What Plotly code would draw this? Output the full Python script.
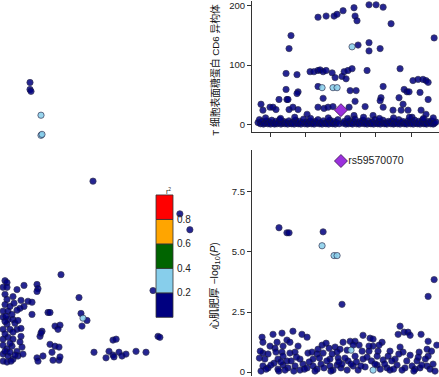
import plotly.graph_objects as go

# ---------------- r2 legend ----------------
r2_breaks = [0.2, 0.4, 0.6, 0.8]
r2_labels = ["0.2", "0.4", "0.6", "0.8"]
r2_colors = ["#000080", "#87CEEB", "#006400", "#FFA500", "#FF0000"]

# ---------------- lead SNP ----------------
lead_snp = "rs59570070"
lead_pos = 31402          # kb
lead_cd6 = 24             # CD6 -log10(P)
lead_heart = 8.79         # heart -log10(P)

# ---------------- left panel: CD6 -log10P vs heart -log10P ----------------
left_cd6 = [43.2, 43.2, 44.8, 60.8, 60.8, 62.4, 144, 283, 299, 92.8, 121.6, 240,
            124.8, 128, 134.4, 126.4, 248, 251, 176, 181, 145.6, 164.8, 169.6, 176,
            177.6, 185.6, 190.4, 196.8, 212.8, 228.8,
            3.2, 6.4, 0, 6.4, 22.4, 33.6, 54.4, 56, 54.4, 3.2, 16, 6.4, 28.8, 40, 46.4,
            33.6, 27.2, 22.4, 46.4, 72, 75.2, 0, 8, 0, 8, 16, 6.4, 19.2, 0, 11.2, 22.4,
            28.8, 62.4, 59.2, 83.2, 91.2, 88, 0, 8, 0, 6.4, 16, 14.4, 30.4, 22.4, 0, 8,
            16, 0, 6.4, 24, 32, 75.2, 83.2, 89.6, 78.4, 64, 54.4, 56, 80, 89.6, 91.2,
            3.2, 11.2, 3.2, 14.4, 3.2, 16, 3.2, 11.2, 19.2, 12.8, 27.2, 11.2, 4.8, 17.6,
            24, 60.8, 28.8]
left_heart = [5.98, 5.83, 5.79, 5.28, 4.85, 4.87, 3.87, 3.17, 2.83, 1.87, 1.38, 1.53,
              1.04, 0.94, 0.89, 0.77, 0.55, 0.53, 0.47, 0.49, 0.21, 0.09, 0.23, 0.15,
              0.11, 0.21, 0.13, 0.17, 0.23, 0.21,
              1.74, 1.70, 1.60, 1.60, 1.55, 1.64, 1.66, 1.57, 1.51, 1.45, 1.40, 1.34, 1.32,
              1.30, 1.28, 1.19, 1.15, 1.11, 1.02, 1.06, 1.06, 1.09, 1.09, 0.96, 0.91, 0.91,
              0.81, 0.83, 0.70, 0.70, 0.70, 0.55, 0.66, 0.55, 0.77, 0.79, 0.70, 0.49, 0.53,
              0.36, 0.28, 0.49, 0.34, 0.32, 0.23, 0.17, 0.13, 0.06, 0.02, 0.0, 0.13, 0.17,
              0.38, 0.34, 0.32, 0.21, 0.13, 0.09, 0.02, 0.04, 0.04, 0.11,
              1.23, 1.19, 0.87, 1.02, 0.60, 0.64, 0.23, 0.40, 0.15, 0.02, 0.43, 0.21, 0.98,
              1.26, 0.89, 0.62, 0.72]
left_r2 = [0.1, 0.1, 0.1, 0.3, 0.3, 0.3] + [0.1] * 7 + [0.3] + [0.1] * (len(left_cd6) - 14)

# ---------------- top-right panel: position vs CD6 -log10P ----------------
top_pos = [31272, 31318, 31363, 31380, 31414, 31476, 31482, 31493, 31561, 31601, 31641,
           31686, 31930, 31119, 31108, 31465, 31499, 31561, 31561, 31624,
           31091, 31153, 31227, 31249, 31272, 31284, 31301, 31318, 31352, 31369, 31408,
           31431, 31420, 31442, 31465, 31550, 31737, 31810, 31839, 31867, 31884, 31896,
           31272, 31295, 31357, 31380, 31091, 31159, 31153, 31301, 31454, 31488, 31641,
           31731, 31760, 31776, 31788, 31850, 31051, 31096, 31102, 31629, 31754, 31896,
           31482, 31624,
           30949, 30960, 31000, 31017, 31034, 31108, 31130, 31159, 31210, 31272, 31306,
           31329, 31357, 31448, 31539, 31641, 31697, 31743, 31782, 31856, 31476, 31584,
           31805, 31884,
           30932, 30940, 30946, 30955, 30963, 30972, 30980, 30988, 30995, 31003, 31010,
           31018, 31026, 31033, 31040, 31048, 31055, 31062, 31070, 31077, 31085, 31092,
           31100, 31107, 31115, 31122, 31130, 31137, 31145, 31152, 31160, 31167, 31175,
           31182, 31190, 31197, 31205, 31212, 31220, 31227, 31235, 31242, 31250, 31257,
           31265, 31272, 31280, 31287, 31295, 31302, 31310, 31317, 31325, 31332, 31340,
           31347, 31355, 31362, 31370, 31377, 31385, 31392, 31415, 31422, 31430, 31437,
           31445, 31452, 31460, 31467, 31475, 31482, 31490, 31497, 31505, 31512, 31520,
           31527, 31535, 31542, 31550, 31557, 31565, 31572, 31580, 31587, 31595, 31602,
           31610, 31617, 31625, 31632, 31640, 31647, 31655, 31662, 31670, 31677, 31685,
           31692, 31700, 31707, 31715, 31722, 31730, 31737, 31745, 31752, 31760, 31767,
           31775, 31782, 31790, 31797, 31805, 31812, 31820, 31827, 31835, 31842, 31850,
           31857, 31865, 31872, 31880, 31887, 31895, 31902, 31910, 31917, 31925, 31932,
           31940,
           30975, 31060, 31140, 31230, 31330, 31440, 31530, 31620, 31700, 31790, 31870,
           31925]
top_val = [181, 183, 183, 186, 192, 197, 183, 175, 202, 202, 198, 170, 146, 150, 128, 131,
           134, 138, 124, 128,
           86, 84, 89, 89, 91, 92, 89, 91, 87, 79, 81, 77, 89, 91, 94, 91, 94, 74, 76, 76,
           74, 71, 64, 62, 62, 62, 59, 55, 52, 44, 57, 57, 64, 45, 59, 55, 55, 54, 42, 42,
           42, 45, 34, 42, 39, 40,
           34, 24, 29, 29, 25, 25, 29, 25, 17, 29, 27, 29, 30, 29, 30, 29, 24, 24, 24, 24,
           15, 15, 12, 17,
           3, 8, 1, 5, 0.5, 2, 6, 1, 4, 0.5, 7, 2, 0.5, 5, 1, 3, 8, 0.5, 2, 5, 1, 3, 0.5,
           6, 2, 1, 4, 0.5, 7, 2, 1, 5, 0.5, 3, 9, 1, 4, 0.5, 2, 6, 1, 3, 0.5, 5, 2, 8, 1,
           3, 0.5, 6, 2, 1, 4, 0.5, 7, 2, 1, 5, 0.5, 3, 8, 1, 2, 5, 0.5, 3, 1, 6, 2, 0.5,
           4, 9, 1, 3, 0.5, 5, 2, 7, 1, 3, 0.5, 6, 2, 1, 4, 0.5, 8, 2, 1, 5, 0.5, 3, 7, 1,
           2, 0.5, 5, 3, 1, 6, 0.5, 2, 4, 1, 8, 0.5, 3, 5, 1, 2, 0.5, 6, 3, 1, 4, 0.5, 7,
           2, 1, 5, 0.5, 3, 8, 1, 2, 0.5, 5, 3, 1, 6, 0.5, 2, 4,
           11, 10, 12, 10, 11, 10, 12, 10, 11, 12, 10, 11]
top_r2 = [0.1] * len(top_pos)
for _p, _v in [(31465, 131), (31295, 62), (31357, 62), (31380, 62)]:
    for _i in range(len(top_pos)):
        if top_pos[_i] == _p and top_val[_i] == _v:
            top_r2[_i] = 0.3

# ---------------- bottom-right panel: position vs heart -log10P ----------------
bot_pos = [31051, 31096, 31108, 31301, 31295, 31363, 31380, 31408, 31896, 31930,
           30955, 30960, 31017, 31068, 31130, 31181, 31210, 31040, 31096, 31113, 31074,
           31028, 31000, 30960, 30989, 31034, 31068, 31074, 31113, 31142, 31159, 31215,
           31238, 31272, 31295, 31318, 31335, 31369, 31397, 31380, 31352, 31301, 31267,
           30960, 30949, 30989, 31023, 31045, 31074, 31102, 31142, 31170, 31187, 31210,
           31244, 31267, 31289, 31306, 31340, 31357, 31380, 31402, 30971, 31045, 31096,
           31170, 31244, 31340, 31386,
           31737, 31726, 31760, 31782, 31794, 31856, 31896, 31527, 31454, 31482, 31414,
           31567, 31584, 31635, 31618, 31584, 31561, 31505, 31471, 31459, 31437, 31522,
           31561, 31612, 31680, 31737, 31754, 31794, 31845, 31890, 31896, 31482, 31607,
           31669, 31442, 31527, 31641, 31709, 31833, 31408, 31471, 31539, 31584, 31607,
           31663, 31720, 31765, 31805, 31850, 31890, 31907, 31437, 31499, 31680, 31748,
           31822, 31924,
           30940, 30945, 30978, 31005, 31050, 31062, 31085, 31120, 31135, 31150, 31195,
           31222, 31255, 31280, 31322, 31345, 31390, 31425, 31460, 31490, 31515, 31550,
           31575, 31595, 31625, 31650, 31690, 31700, 31730, 31775, 31815, 31840, 31860,
           31880, 31915, 31935, 31945]
bot_val = [6.01, 5.80, 5.80, 5.84, 5.26, 4.85, 4.85, 2.82, 3.15, 3.85,
           1.45, 1.24, 1.57, 1.62, 1.70, 1.57, 1.45, 1.24, 1.33, 1.24, 1.08, 0.99, 1.08,
           0.79, 0.75, 0.83, 0.83, 0.66, 0.79, 0.83, 1.08, 0.79, 0.83, 0.95, 1.12, 1.20,
           0.99, 1.04, 0.95, 0.83, 0.75, 0.79, 0.75, 0.25, 0.04, 0.17, 0.37, 0.12, 0.29,
           0.17, 0.25, 0.08, 0.33, 0.17, 0.25, 0.12, 0.33, 0.17, 0.25, 0.08, 0.29, 0.17,
           0.54, 0.54, 0.46, 0.54, 0.54, 0.54, 0.58,
           1.91, 1.57, 1.66, 1.66, 1.53, 1.57, 1.28, 1.53, 1.28, 1.28, 1.24, 1.41, 1.37,
           1.24, 1.12, 1.08, 1.08, 1.12, 1.12, 0.91, 0.91, 0.87, 0.87, 0.87, 0.87, 1.04,
           0.83, 0.70, 0.83, 0.95, 0.66, 0.66, 0.66, 0.66, 0.46, 0.54, 0.50, 0.54, 0.46,
           0.33, 0.25, 0.21, 0.08, 0.29, 0.17, 0.29, 0.17, 0.25, 0.17, 0.25, 0.12, 0.08,
           0.08, 0.08, 0.08, 0.12, 0.33,
           0.58, 0.87, 0.12, 0.29, 0.04, 0.42, 0.08, 0.46, 0.04, 0.62, 0.12, 0.42, 0.04,
           0.58, 0.46, 0.04, 0.42, 0.58, 0.33, 0.42, 0.25, 0.62, 0.46, 0.33, 0.12, 0.33,
           0.46, 0.12, 0.75, 0.46, 0.04, 0.62, 0.29, 0.54, 0.87, 0.04, 1.12]
bot_r2 = [0.1] * len(bot_pos)
for _p, _v in [(31295, 5.26), (31363, 4.85), (31380, 4.85), (31459, 0.91), (31584, 0.08)]:
    for _i in range(len(bot_pos)):
        if bot_pos[_i] == _p and bot_val[_i] == _v:
            bot_r2[_i] = 0.3

pos_ticks = [31000, 31200, 31400, 31600, 31800]
cd6_ticks = [0, 100, 200]
heart_ticks = [0, 2.5, 5.0, 7.5]
heart_ticktext = ["0", "2.5", "5.0", "7.5"]

cd6_title = "T 细胞表面糖蛋白 CD6 异构体"
heart_title = "心肌肥厚 −log<sub>10</sub>(<i>P</i>)"

# ---------------- helpers ----------------
W, H = 439, 377
FONT = "Liberation Sans, Arial, Noto Sans CJK SC, sans-serif"


def r2_color(r):
    for b, c in zip(r2_breaks, r2_colors):
        if r < b:
            return c
    return r2_colors[-1]


def ordered(xs, ys, rs):
    idx = sorted(range(len(xs)), key=lambda i: rs[i])
    return ([xs[i] for i in idx], [ys[i] for i in idx], [r2_color(rs[i]) for i in idx])


def px_x(p):
    return p / W


def px_y(p):
    return 1 - p / H


fig = go.Figure()
mk_line = dict(color="#15153a", width=0.7)
MK = 6.3
OP = 0.85

# left panel
lx, ly, lc = ordered(left_cd6, left_heart, left_r2)
fig.add_trace(go.Scatter(x=lx, y=ly, mode="markers", xaxis="x3", yaxis="y3",
                         marker=dict(size=MK, color=lc, line=mk_line, opacity=OP), hoverinfo="skip"))
# top-right panel
tx, ty, tc = ordered(top_pos, top_val, top_r2)
fig.add_trace(go.Scatter(x=tx, y=ty, mode="markers", xaxis="x", yaxis="y",
                         marker=dict(size=MK, color=tc, line=mk_line, opacity=OP), hoverinfo="skip"))
fig.add_trace(go.Scatter(x=[lead_pos], y=[lead_cd6], mode="markers", xaxis="x", yaxis="y",
                         marker=dict(size=10, symbol="diamond", color="#9b30dd",
                                     line=dict(color="#3a1050", width=0.8)), hoverinfo="skip"))
# bottom-right panel
bx, by, bc = ordered(bot_pos, bot_val, bot_r2)
fig.add_trace(go.Scatter(x=bx, y=by, mode="markers", xaxis="x2", yaxis="y2",
                         marker=dict(size=MK, color=bc, line=mk_line, opacity=OP), hoverinfo="skip"))
fig.add_trace(go.Scatter(x=[lead_pos], y=[lead_heart], mode="markers+text", xaxis="x2", yaxis="y2",
                         text=[lead_snp], textposition="middle right",
                         textfont=dict(size=10.5, color="#222", family=FONT),
                         marker=dict(size=10, symbol="diamond", color="#9b30dd",
                                     line=dict(color="#3a1050", width=0.8)), hoverinfo="skip",
                         cliponaxis=False))

x_left, x_right = 252, 439
pos_range = [31000 + (x_left - 270) * 5.666, 31000 + (x_right - 270) * 5.666]

axis_common = dict(showgrid=False, zeroline=False, linecolor="#333", linewidth=1.2,
                   tickcolor="#333", ticklen=4, tickwidth=1, ticks="outside",
                   ticklabeloverflow="allow",
                   tickfont=dict(size=9.5, color="#222", family=FONT))

fig.update_layout(
    width=W, height=H, margin=dict(l=0, r=0, t=0, b=0),
    paper_bgcolor="white", plot_bgcolor="white", showlegend=False,
    font=dict(family=FONT, color="#111"),
    xaxis=dict(domain=[x_left / W, 1], range=pos_range, anchor="y", showline=True,
               tickvals=pos_ticks, showticklabels=False, **axis_common),
    yaxis=dict(domain=[px_y(132), 1], range=[-13.4, 208.4], anchor="x", showline=True,
               tickvals=cd6_ticks, **axis_common),
    xaxis2=dict(domain=[x_left / W, 1], range=pos_range, anchor="y2", visible=False),
    yaxis2=dict(domain=[0, px_y(150)], range=[-0.166, 9.24], anchor="x2", showline=True,
                tickvals=heart_ticks, ticktext=heart_ticktext, **axis_common),
    xaxis3=dict(domain=[0, 0.5], range=[-4.8, 346.4], anchor="y3", visible=False),
    yaxis3=dict(domain=[0, 1], range=[-0.298, 7.723], anchor="x3", visible=False),
)

# axis titles
fig.add_annotation(x=px_x(215), y=px_y(69), xref="paper", yref="paper", text=cd6_title,
                   textangle=-90, showarrow=False, xanchor="center", yanchor="middle",
                   font=dict(size=9.8, color="#111", family=FONT))
fig.add_annotation(x=px_x(215), y=px_y(287), xref="paper", yref="paper", text=heart_title,
                   textangle=-90, showarrow=False, xanchor="center", yanchor="middle",
                   font=dict(size=10.5, color="#111", family=FONT))

# r2 colour legend
bar_x0, bar_x1, bar_top, bar_bot = 156, 173, 195, 318
seg = (bar_bot - bar_top) / len(r2_colors)
for i, c in enumerate(r2_colors):
    y_hi = bar_bot - seg * (i + 1)
    y_lo = bar_bot - seg * i
    fig.add_shape(type="rect", xref="paper", yref="paper",
                  x0=px_x(bar_x0), x1=px_x(bar_x1), y0=px_y(y_lo), y1=px_y(y_hi),
                  fillcolor=c, line=dict(color="#333", width=0.8), layer="above")
for i, lab in enumerate(r2_labels):
    yb = bar_bot - seg * (i + 1)
    fig.add_annotation(x=px_x(bar_x1 + 1.5), y=px_y(yb), xref="paper", yref="paper",
                       text=lab, showarrow=False, xanchor="left", yanchor="middle",
                       font=dict(size=10, color="#222", family=FONT))
fig.add_annotation(x=px_x(168), y=px_y(191), xref="paper", yref="paper",
                   text="r<sup>2</sup>", showarrow=False, xanchor="center", yanchor="middle",
                   font=dict(size=7, color="#222", family=FONT))

fig.write_html("out.html", config={"displayModeBar": False},
               post_script="document.body.style.margin='0';document.body.style.overflow='hidden';")
